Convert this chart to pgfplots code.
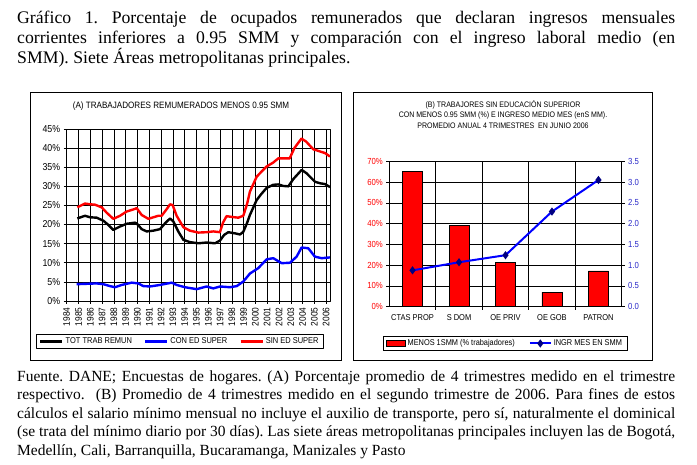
\documentclass[border=0pt]{standalone}
\usepackage{fontspec}
\setmainfont{Liberation Serif}
\newfontfamily\cf[FakeStretch=0.88]{Liberation Sans}
\usepackage{pgfplots}
\pgfplotsset{compat=1.18}
\definecolor{exred}{RGB}{255,0,0}
\definecolor{exblue}{RGB}{0,0,255}
\definecolor{navy}{RGB}{0,0,128}
\definecolor{tickblue}{RGB}{40,40,200}
\pgfplotsset{
  barleg/.style={legend image code/.code={\draw[##1] (0pt,-2.5pt) rectangle (19pt,3pt);}},
  lineleg/.style={legend image code/.code={\draw[mark repeat=2,mark phase=2,##1] plot coordinates {(0pt,0pt) (10.5pt,0pt) (21pt,0pt)};}},
  shortleg/.style={legend image code/.code={\draw[##1] (0pt,0pt) -- (22pt,0pt);}},
}
\frenchspacing

\begin{document}
\begin{tikzpicture}
\useasboundingbox (0pt,0pt) rectangle (697pt,464pt);

% title
\begin{scope}[every node/.style={anchor=base west,inner sep=0pt,font=\fontsize{17.7}{20}\selectfont}]
\node at (17pt,440.7pt) {\makebox[658pt][s]{Gráfico 1. Porcentaje de ocupados remunerados que declaran ingresos mensuales}};
\node at (17pt,420.7pt) {\makebox[658pt][s]{corrientes inferiores a 0.95 SMM y comparación con el ingreso laboral medio (en}};
\node at (17pt,400.7pt) {SMM). Siete Áreas metropolitanas principales.};
\end{scope}

% caption
\begin{scope}[every node/.style={anchor=base west,inner sep=0pt,font=\fontsize{15.5}{18.5}\selectfont}]
\node at (17pt,82.7pt) {\makebox[658pt][s]{Fuente. DANE; Encuestas de hogares. (A) Porcentaje promedio de 4 trimestres medido en el trimestre}};
\node at (17pt,64.2pt) {\makebox[658pt][s]{respectivo. \ (B) Promedio de 4 trimestres medido en el segundo trimestre de 2006. Para fines de estos}};
\node at (17pt,45.7pt) {\makebox[658pt][s]{cálculos el salario mínimo mensual no incluye el auxilio de transporte, pero sí, naturalmente el dominical}};
\node at (17pt,27.2pt) {\makebox[658pt][s]{(se trata del mínimo diario por 30 días). Las siete áreas metropolitanas principales incluyen las de Bogotá,}};
\node at (17pt,8.7pt) {Medellín, Cali, Barranquilla, Bucaramanga, Manizales y Pasto};
\end{scope}

% panel frames
\draw[black,line width=1pt] (30pt,103pt) rectangle (341pt,371pt);
\draw[black,line width=1pt] (353pt,103pt) rectangle (652pt,371pt);

% panel titles
\node[font=\cf\fontsize{9.2}{10}\selectfont,inner sep=0pt] at (181pt,358.3pt) {(A) TRABAJADORES REMUMERADOS MENOS 0.95 SMM};
\node[font=\cf\fontsize{8}{10.2}\selectfont,inner sep=0pt,align=center] at (503pt,349.5pt)
  {(B) TRABAJORES SIN EDUCACIÓN SUPERIOR\\CON MENOS 0.95 SMM (\%) E INGRESO MEDIO MES (enS MM).\\PROMEDIO ANUAL 4 TRIMESTRES \ EN JUNIO 2006};

% ---------- panel A ----------
\begin{axis}[
  at={(66.7pt,163pt)}, anchor=south west,
  scale only axis, width=263.3pt, height=172pt,
  xmin=1984, xmax=2006.32, ymin=0, ymax=45,
  xtick={1984,...,2006}, ytick={0,5,...,45},
  tick pos=left, tick align=outside, major tick length=3pt,
  tick style={black,line width=0.6pt},
  grid=major, grid style={black,line width=0.6pt},
  axis line style={black,line width=0.7pt},
  /pgf/number format/assume math mode=true,
  /pgf/number format/1000 sep={},
  yticklabel={\pgfmathprintnumber{\tick}\%},
  y tick label style={font=\cf\fontsize{10}{10}\selectfont},
  x tick label style={rotate=90,anchor=east,font=\cf\fontsize{9.5}{10}\selectfont},
  legend columns=3,
  legend style={at={(0.43,-0.235)},anchor=center,draw=black,line width=0.8pt,
    font=\cf\fontsize{8.5}{9}\selectfont,inner ysep=1pt,
    /tikz/every even column/.append style={column sep=10pt}},
  shortleg,
  line join=round,
]
\addplot[black,line width=2.4pt] coordinates {
(1984.90,21.6) (1985.55,22.3) (1985.98,21.9) (1986.54,21.8) (1987.11,21.0) (1987.53,19.9)
(1987.95,18.6) (1988.52,19.5) (1989.08,20.2) (1989.79,20.5) (1989.93,20.3) (1990.36,18.8)
(1990.78,18.2) (1991.34,18.4) (1991.91,18.8) (1992.33,20.3) (1992.76,21.6) (1993.04,20.8)
(1993.46,18.2) (1993.89,16.0) (1994.45,15.4) (1995.16,15.1) (1995.86,15.3) (1996.57,15.1)
(1996.99,15.8) (1997.35,17.3) (1997.70,18.0) (1998.27,17.7) (1998.69,17.4) (1998.97,18.1)
(1999.30,20.5) (1999.53,22.5) (2000.10,26.4) (2000.50,28.0) (2000.95,29.6) (2001.51,30.4)
(2001.94,30.5) (2002.36,30.1) (2002.79,30.0) (2003.21,31.9) (2003.92,34.3) (2004.34,33.4)
(2005.05,31.2) (2005.47,30.8) (2005.89,30.6) (2006.32,29.8)};
\addlegendentry{TOT TRAB REMUN}
\addplot[exblue,line width=2.4pt] coordinates {
(1984.84,4.4) (1985.69,4.5) (1986.54,4.6) (1987.10,4.4) (1987.67,3.9) (1988.09,3.6)
(1988.66,4.2) (1989.51,4.8) (1990.07,4.6) (1990.49,3.9) (1991.06,3.8) (1991.91,4.2)
(1992.90,4.8) (1993.32,4.2) (1994.03,3.6) (1995.02,3.1) (1995.86,3.8) (1996.43,3.3)
(1997.00,3.8) (1997.85,3.6) (1998.42,3.9) (1998.97,5.1) (1999.54,7.2) (2000.24,8.6)
(2000.95,10.9) (2001.51,11.2) (2002.22,9.9) (2002.92,10.0) (2003.49,11.6) (2003.91,14.0)
(2004.48,13.8) (2005.04,11.6) (2005.61,11.2) (2006.31,11.4)};
\addlegendentry{CON ED SUPER}
\addplot[exred,line width=2.4pt] coordinates {
(1984.90,24.5) (1985.55,25.5) (1985.98,25.3) (1986.40,25.2) (1986.97,24.5) (1987.39,23.1)
(1987.95,21.5) (1988.52,22.3) (1989.08,23.4) (1989.79,24.1) (1989.93,24.3) (1990.36,22.5)
(1990.92,21.5) (1991.34,21.9) (1991.77,22.3) (1992.05,22.3) (1992.47,24.0) (1992.76,25.3)
(1992.98,25.1) (1993.32,22.3) (1993.89,19.3) (1994.45,18.4) (1995.16,17.9) (1995.86,18.0)
(1996.43,18.2) (1996.99,18.0) (1997.25,20.5) (1997.55,22.2) (1997.98,22.0) (1998.55,21.8)
(1998.97,22.3) (1999.30,25.5) (1999.53,28.6) (2000.10,32.5) (2000.50,33.8) (2000.95,35.2)
(2001.50,36.2) (2001.93,37.3) (2002.90,37.3) (2003.30,40.0) (2003.90,42.5) (2004.30,41.7)
(2004.90,39.7) (2005.50,39.1) (2005.90,38.7) (2006.32,37.8)};
\addlegendentry{SIN ED SUPER}
\end{axis}

% ---------- panel B, bars on the left axis ----------
\begin{axis}[
  at={(389.3pt,157.3pt)}, anchor=south west,
  scale only axis, width=232.4pt, height=145.4pt,
  xmin=-0.5, xmax=4.5, ymin=0, ymax=70,
  xtick={0,...,4}, xticklabels={CTAS PROP,S DOM,OE PRIV,OE GOB,PATRON},
  major x tick style={draw=none},
  minor xtick={0.5,1.5,2.5,3.5}, xminorgrids=true,
  ytick={0,10,...,70}, ymajorgrids=true,
  grid style={black,line width=0.6pt},
  minor grid style={black,line width=0.6pt},
  ytick pos=left, xtick pos=left, tick align=outside, major tick length=3pt,
  tick style={black,line width=0.6pt},
  axis line style={black,line width=0.7pt},
  /pgf/number format/assume math mode=true,
  yticklabel={\pgfmathprintnumber{\tick}\%},
  y tick label style={exred,font=\cf\fontsize{8.8}{9}\selectfont},
  x tick label style={font=\cf\fontsize{8.5}{9}\selectfont,yshift=-1pt},
  legend columns=2,
  legend style={at={(0.498,-0.253)},anchor=center,draw=black,line width=0.8pt,
    font=\cf\fontsize{8.4}{9}\selectfont,inner ysep=1pt,
    /tikz/every even column/.append style={column sep=12pt}},
]
\addplot[ybar,bar width=20pt,fill=exred,draw=black,line width=0.5pt,barleg]
  coordinates {(0,65.1) (1,39.3) (2,21.4) (3,7.0) (4,17.2)};
\addlegendentry{MENOS 1SMM (\% trabajadores)}
\addlegendimage{exblue,line width=2pt,mark=diamond*,mark size=2.5pt,mark options={fill=navy,draw=navy},lineleg}
\addlegendentry{INGR MES EN SMM}
\end{axis}

% ---------- panel B, income on the right axis ----------
\begin{axis}[
  at={(389.3pt,157.3pt)}, anchor=south west,
  scale only axis, width=232.4pt, height=145.4pt,
  xmin=-0.5, xmax=4.5, ymin=0, ymax=3.5,
  axis x line=none, axis y line*=right,
  ytick={0,0.5,...,3.5},
  tick align=outside, major tick length=3pt,
  tick style={black,line width=0.6pt},
  axis line style={black,line width=0.7pt},
  /pgf/number format/assume math mode=true,
  y tick label style={tickblue,font=\cf\fontsize{8.8}{9}\selectfont,
    /pgf/number format/.cd,fixed,fixed zerofill,precision=1},
]
\addplot[exblue,line width=2pt,mark=diamond*,mark size=2.5pt,mark options={fill=navy,draw=navy}]
  coordinates {(0,0.875) (1,1.07) (2,1.24) (3,2.29) (4,3.05)};
\end{axis}
\end{tikzpicture}
\end{document}
